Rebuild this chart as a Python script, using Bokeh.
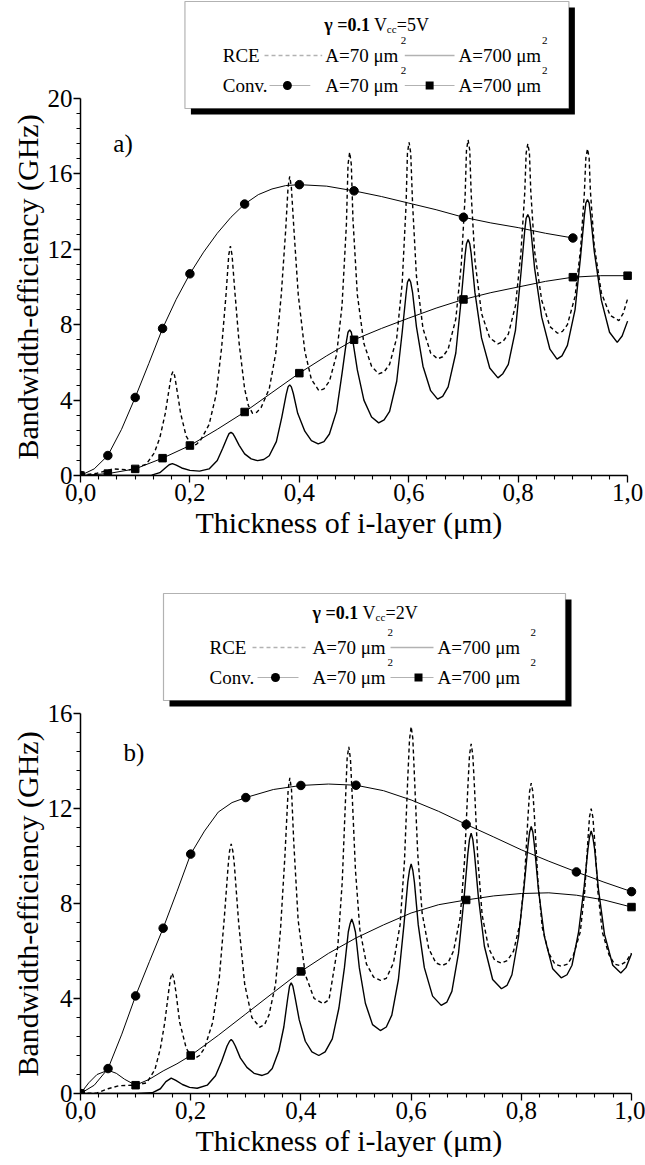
from bokeh.plotting import figure
from bokeh.models import Range1d, FixedTicker, Label, BoxAnnotation, PolyAnnotation, Title
from bokeh.layouts import column
from bokeh.embed import file_html
from bokeh.resources import INLINE

# ---------------- data: panel a (Vcc = 5 V) ----------------
a_conv70_x = [0, 0.05, 0.1, 0.15, 0.2, 0.3, 0.4, 0.5, 0.7, 0.9]
a_conv70_y = [0, 1.06, 4.14, 7.8, 10.7, 14.4, 15.43, 15.1, 13.7, 12.6]
a_conv70_cx = [0, 0.025, 0.05, 0.075, 0.1, 0.125, 0.15, 0.175, 0.2, 0.225, 0.25, 0.275, 0.3,
               0.325, 0.35, 0.375, 0.4, 0.45, 0.5, 0.55, 0.6, 0.65, 0.7, 0.75, 0.8, 0.85, 0.9]
a_conv70_cy = [0, 0.35, 1.06, 2.45, 4.14, 5.95, 7.8, 9.35, 10.7, 11.85, 12.85, 13.7, 14.4,
               14.9, 15.2, 15.38, 15.43, 15.35, 15.1, 14.8, 14.45, 14.1, 13.7, 13.4, 13.15, 12.85, 12.6]

a_conv700_x = [0, 0.05, 0.1, 0.15, 0.2, 0.3, 0.4, 0.5, 0.7, 0.9, 1.0]
a_conv700_y = [0, 0.1, 0.35, 0.92, 1.59, 3.37, 5.43, 7.2, 9.34, 10.52, 10.6]
a_conv700_cx = [0, 0.05, 0.1, 0.15, 0.2, 0.25, 0.3, 0.35, 0.4, 0.45, 0.5, 0.55, 0.6, 0.65, 0.7,
                0.75, 0.8, 0.85, 0.9, 0.95, 1.0]
a_conv700_cy = [0, 0.1, 0.35, 0.92, 1.59, 2.45, 3.37, 4.4, 5.43, 6.35, 7.2, 7.8, 8.35, 8.88, 9.34,
                9.7, 10.0, 10.3, 10.52, 10.6, 10.6]

a_rce70_x = [0, 0.03, 0.06, 0.09, 0.12, 0.135, 0.145, 0.155, 0.162, 0.166, 0.169, 0.172, 0.176, 0.183,
             0.193, 0.2, 0.2055, 0.212,
             0.22, 0.235, 0.248, 0.258, 0.266, 0.271, 0.274, 0.277, 0.282, 0.29, 0.3, 0.307, 0.3145, 0.322,
             0.33, 0.345, 0.357, 0.367, 0.375, 0.3794, 0.3824, 0.3854, 0.39, 0.398, 0.41, 0.422, 0.4358, 0.445,
             0.455, 0.468, 0.478, 0.486, 0.489, 0.492, 0.495, 0.498, 0.506, 0.518, 0.532, 0.545, 0.555,
             0.565, 0.578, 0.588, 0.595, 0.5976, 0.6006, 0.6036, 0.607, 0.614, 0.626, 0.64, 0.6527, 0.662,
             0.672, 0.686, 0.696, 0.703, 0.7055, 0.7085, 0.7115, 0.714, 0.721, 0.733, 0.748, 0.763, 0.772,
             0.782, 0.795, 0.805, 0.812, 0.8146, 0.8176, 0.8206, 0.823, 0.830, 0.843, 0.858, 0.872, 0.881,
             0.89, 0.904, 0.914, 0.921, 0.9237, 0.9267, 0.9297, 0.932, 0.939, 0.952, 0.968, 0.984, 0.992, 1.0]
a_rce70_y = [0, 0.12, 0.35, 0.3, 0.6, 1.2, 2.0, 3.3, 4.6, 5.3, 5.52, 5.3, 4.6, 3.3,
             2.1, 1.75, 1.6, 1.65,
             1.9, 2.7, 4.3, 6.8, 9.6, 11.7, 12.17, 11.7, 9.8, 7.0, 4.6, 3.7, 3.3, 3.35,
             3.6, 4.6, 6.5, 9.6, 13.0, 15.3, 15.87, 15.3, 13.1, 9.6, 6.6, 5.1, 4.5, 4.6,
             5.0, 6.4, 9.0, 13.3, 16.5, 17.15, 16.5, 13.6, 9.6, 7.0, 5.8, 5.39, 5.5,
             5.9, 7.3, 10.2, 14.3, 17.1, 17.68, 17.1, 14.4, 10.6, 7.8, 6.5, 6.19, 6.3,
             6.7, 8.3, 11.2, 14.8, 17.25, 17.81, 17.25, 15.0, 11.4, 8.6, 7.3, 6.98, 7.1,
             7.5, 9.0, 11.8, 15.0, 17.1, 17.6, 17.1, 15.1, 11.9, 9.3, 7.9, 7.55, 7.65,
             8.0, 9.5, 12.0, 15.0, 16.85, 17.33, 16.85, 15.1, 12.2, 9.7, 8.5, 8.22, 8.6, 9.37]

a_rce700_x = [0, 0.1, 0.13, 0.145, 0.155, 0.162, 0.168, 0.175, 0.185, 0.2, 0.2176,
              0.235, 0.25, 0.26, 0.268, 0.2715, 0.275, 0.2785, 0.282, 0.29, 0.3, 0.312, 0.3236, 0.335,
              0.345, 0.358, 0.368, 0.376, 0.3794, 0.3824, 0.3854, 0.389, 0.397, 0.41, 0.422, 0.4345, 0.445,
              0.455, 0.468, 0.478, 0.486, 0.489, 0.492, 0.495, 0.498, 0.506, 0.518, 0.532, 0.545, 0.555,
              0.565, 0.578, 0.588, 0.595, 0.5976, 0.6006, 0.6036, 0.607, 0.614, 0.626, 0.64, 0.6527, 0.662,
              0.672, 0.686, 0.696, 0.703, 0.7055, 0.7085, 0.7115, 0.714, 0.721, 0.733, 0.748, 0.763, 0.772,
              0.782, 0.795, 0.805, 0.812, 0.8146, 0.8176, 0.8206, 0.823, 0.830, 0.843, 0.858, 0.871, 0.88,
              0.89, 0.904, 0.914, 0.921, 0.9237, 0.9267, 0.9297, 0.932, 0.939, 0.952, 0.967, 0.981, 0.99, 1.0]
a_rce700_y = [0, 0, 0.02, 0.15, 0.4, 0.57, 0.63, 0.55, 0.4, 0.27, 0.23,
              0.35, 0.8, 1.45, 2.0, 2.22, 2.29, 2.22, 2.05, 1.6, 1.15, 0.88, 0.79, 0.85,
              1.05, 1.8, 3.1, 4.3, 4.7, 4.81, 4.7, 4.35, 3.3, 2.35, 1.85, 1.68, 1.8,
              2.2, 3.4, 5.4, 7.1, 7.6, 7.73, 7.6, 7.1, 5.6, 4.0, 3.1, 2.79, 2.95,
              3.4, 5.0, 7.6, 9.6, 10.25, 10.43, 10.25, 9.7, 7.9, 5.8, 4.5, 4.05, 4.2,
              4.7, 6.5, 9.4, 11.7, 12.3, 12.52, 12.3, 11.8, 9.7, 7.3, 5.7, 5.18, 5.4,
              5.9, 7.7, 10.7, 13.0, 13.65, 13.85, 13.65, 13.1, 11.0, 8.4, 6.7, 6.17, 6.35,
              6.9, 8.8, 11.6, 13.8, 14.45, 14.64, 14.45, 13.9, 11.9, 9.3, 7.6, 7.06, 7.4, 8.19]

# ---------------- data: panel b (Vcc = 2 V) ----------------
b_conv70_x = [0, 0.05, 0.1, 0.15, 0.2, 0.3, 0.4, 0.5, 0.7, 0.9, 1.0]
b_conv70_y = [0, 1.05, 4.11, 6.96, 10.08, 12.46, 12.97, 12.98, 11.33, 9.33, 8.5]
b_conv70_cx = [0, 0.025, 0.05, 0.075, 0.1, 0.125, 0.15, 0.175, 0.2, 0.225, 0.25, 0.275, 0.3,
               0.35, 0.4, 0.45, 0.5, 0.55, 0.6, 0.65, 0.7, 0.75, 0.8, 0.85, 0.9, 0.95, 1.0]
b_conv70_cy = [0, 0.35, 1.05, 2.5, 4.11, 5.55, 6.96, 8.5, 10.08, 11.05, 11.85, 12.25, 12.46,
               12.8, 12.97, 13.03, 12.98, 12.75, 12.36, 11.88, 11.33, 10.8, 10.26, 9.78, 9.33, 8.9, 8.5]

b_conv700_x = [0, 0.1, 0.2, 0.4, 0.7, 1.0]
b_conv700_y = [0, 0.35, 1.6, 5.14, 8.15, 7.85]
b_conv700_cx = [0, 0.015, 0.03, 0.05, 0.065, 0.08, 0.1, 0.125, 0.15, 0.175, 0.2, 0.25, 0.3, 0.35,
                0.4, 0.45, 0.5, 0.55, 0.6, 0.65, 0.7, 0.75, 0.8, 0.85, 0.9, 0.95, 1.0]
b_conv700_cy = [0, 0.45, 0.8, 0.98, 0.85, 0.6, 0.35, 0.6, 0.95, 1.25, 1.6, 2.45, 3.35, 4.25,
                5.14, 5.9, 6.55, 7.1, 7.6, 7.95, 8.15, 8.32, 8.42, 8.45, 8.35, 8.15, 7.85]

b_rce70_x = [0, 0.03, 0.05, 0.07, 0.1, 0.12, 0.135, 0.145, 0.153, 0.16, 0.1634, 0.1664, 0.1694, 0.173, 0.18,
             0.192, 0.2, 0.2087, 0.216,
             0.225, 0.24, 0.252, 0.261, 0.268, 0.2705, 0.2735, 0.2765, 0.279, 0.287, 0.298, 0.311, 0.3254, 0.334,
             0.342, 0.354, 0.363, 0.371, 0.3769, 0.3799, 0.3829, 0.387, 0.395, 0.408, 0.424, 0.4405, 0.451,
             0.455, 0.467, 0.475, 0.481, 0.4839, 0.4869, 0.4899, 0.493, 0.499, 0.507, 0.519, 0.532, 0.5445, 0.555,
             0.568, 0.58, 0.588, 0.594, 0.5971, 0.6001, 0.6031, 0.606, 0.612, 0.62, 0.632, 0.645, 0.6564, 0.667,
             0.677, 0.689, 0.697, 0.703, 0.706, 0.709, 0.712, 0.715, 0.721, 0.729, 0.741, 0.752, 0.764, 0.775,
             0.786, 0.798, 0.806, 0.812, 0.815, 0.818, 0.821, 0.824, 0.830, 0.838, 0.85, 0.861, 0.8724, 0.884,
             0.895, 0.907, 0.915, 0.921, 0.9238, 0.9268, 0.9298, 0.933, 0.939, 0.947, 0.959, 0.969, 0.9788, 0.99,
             1.0]
b_rce70_y = [0, 0.02, 0.2, 0.33, 0.35, 0.45, 1.0, 1.9, 3.0, 4.3, 4.85, 5.07, 4.85, 4.3, 3.0,
             1.9, 1.6, 1.5, 1.6,
             1.9, 3.0, 4.9, 7.4, 9.6, 10.2, 10.51, 10.2, 9.7, 7.2, 4.6, 3.2, 2.79, 2.9,
             3.3, 4.6, 6.9, 10.0, 12.8, 13.29, 12.8, 10.6, 7.3, 5.0, 4.0, 3.78, 3.95,
             4.5, 6.2, 8.9, 12.4, 14.1, 14.6, 14.1, 12.6, 9.4, 6.9, 5.45, 4.9, 4.76, 4.85,
             5.5, 7.1, 9.8, 13.3, 14.9, 15.45, 14.95, 13.4, 10.1, 7.6, 6.1, 5.5, 5.39, 5.5,
             6.0, 7.4, 9.8, 12.9, 14.25, 14.72, 14.25, 12.9, 9.9, 7.5, 6.1, 5.6, 5.49, 5.6,
             6.0, 7.2, 9.1, 11.6, 12.7, 13.07, 12.7, 11.6, 9.0, 7.0, 5.9, 5.45, 5.36, 5.45,
             5.85, 6.8, 8.5, 10.7, 11.65, 11.99, 11.65, 10.7, 8.5, 6.8, 5.85, 5.45, 5.39, 5.55,
             5.91]

b_rce700_x = [0, 0.1, 0.13, 0.145, 0.155, 0.1646, 0.173, 0.185, 0.198, 0.2118,
              0.23, 0.245, 0.256, 0.266, 0.2705, 0.2735, 0.2765, 0.281, 0.29, 0.302, 0.315, 0.3297, 0.34,
              0.348, 0.36, 0.369, 0.376, 0.3794, 0.3824, 0.3854, 0.389, 0.397, 0.408, 0.42, 0.4325, 0.444,
              0.457, 0.469, 0.479, 0.486, 0.4893, 0.4923, 0.4953, 0.499, 0.506, 0.517, 0.53, 0.5442, 0.555,
              0.565, 0.577, 0.587, 0.594, 0.5971, 0.6001, 0.6031, 0.606, 0.613, 0.624, 0.639, 0.6546, 0.665,
              0.674, 0.686, 0.696, 0.703, 0.706, 0.709, 0.712, 0.715, 0.722, 0.733, 0.748, 0.764, 0.774,
              0.783, 0.795, 0.805, 0.812, 0.815, 0.818, 0.821, 0.824, 0.831, 0.842, 0.857, 0.8724, 0.883,
              0.892, 0.904, 0.914, 0.921, 0.9238, 0.9268, 0.9298, 0.933, 0.94, 0.951, 0.966, 0.9806, 0.99, 1.0]
b_rce700_y = [0, 0, 0.03, 0.2, 0.5, 0.65, 0.55, 0.38, 0.26, 0.22,
              0.35, 0.75, 1.35, 2.0, 2.2, 2.27, 2.2, 2.0, 1.5, 1.1, 0.85, 0.76, 0.85,
              1.05, 1.8, 2.8, 4.0, 4.52, 4.66, 4.52, 4.1, 3.1, 2.2, 1.75, 1.6, 1.75,
              2.3, 3.6, 5.3, 6.8, 7.15, 7.35, 7.15, 6.8, 5.3, 3.8, 2.9, 2.65, 2.8,
              3.3, 4.8, 7.1, 8.9, 9.4, 9.67, 9.4, 8.9, 7.1, 5.3, 4.1, 3.71, 3.85,
              4.3, 5.9, 8.2, 10.1, 10.7, 10.96, 10.7, 10.1, 8.3, 6.2, 4.8, 4.41, 4.55,
              5.0, 6.6, 8.7, 10.4, 11.0, 11.24, 11.0, 10.4, 8.6, 6.6, 5.25, 4.87, 5.0,
              5.4, 6.8, 8.7, 10.3, 10.8, 11.05, 10.8, 10.3, 8.6, 6.7, 5.4, 5.07, 5.3, 5.88]

x_ticks = [0, 0.2, 0.4, 0.6, 0.8, 1.0]
x_tick_labels = ["0,0", "0,2", "0,4", "0,6", "0,8", "1,0"]
a_y_ticks = [0, 4, 8, 12, 16, 20]
b_y_ticks = [0, 4, 8, 12, 16]
x_title = "Thickness of i-layer (\u03bcm)"
y_title = "Bandwidth-efficiency (GHz)"

FONT = "Liberation Serif"


def make_fig(height, frame_left, frame_right, frame_top, frame_bottom, bottom_border, ymax, yticks,
             x_off, y_off):
    W = 645
    fw = W - frame_left
    x_end = fw / (frame_right - frame_left)
    fh = height - bottom_border
    y_end = ymax * fh / (frame_bottom - frame_top)
    p = figure(width=W, height=height, output_backend="svg", toolbar_location=None,
               x_range=Range1d(0, x_end), y_range=Range1d(0, y_end),
               min_border_left=frame_left, min_border_right=0, min_border_top=0,
               min_border_bottom=bottom_border)
    p.outline_line_color = None
    p.grid.visible = False
    p.background_fill_color = "white"
    p.border_fill_color = "white"
    minor_x = [i / 30 for i in range(31) if i % 6 != 0]
    p.xaxis.ticker = FixedTicker(ticks=x_ticks, minor_ticks=minor_x)
    p.xaxis.major_label_overrides = {t: l for t, l in zip(x_ticks, x_tick_labels)}
    minor_y = [i * 0.8 for i in range(int(ymax / 0.8) + 1) if i % 5 != 0]
    p.yaxis.ticker = FixedTicker(ticks=yticks, minor_ticks=minor_y)
    p.xaxis.bounds = (0, 1)
    p.yaxis.bounds = (0, ymax)
    for ax in (p.xaxis[0], p.yaxis[0]):
        ax.axis_line_width = 1.5
        ax.axis_line_color = "black"
        ax.major_tick_line_color = "black"
        ax.minor_tick_line_color = "black"
        ax.major_tick_line_width = 1.3
        ax.minor_tick_line_width = 1.1
        ax.major_tick_out = 7
        ax.major_tick_in = 0
        ax.minor_tick_out = 4
        ax.minor_tick_in = 0
        ax.major_label_text_font = FONT
        ax.major_label_text_font_size = "25px"
        ax.major_label_text_color = "black"
        ax.major_label_standoff = 1
    # axis titles as side-panel titles so they can be centred on the axis span
    p.add_layout(Title(text=x_title, align="left", offset=x_off, standoff=0,
                       text_font=FONT, text_font_size="30px", text_font_style="normal",
                       text_color="black"), "below")
    p.add_layout(Title(text=y_title, align="left", offset=y_off, standoff=2,
                       text_font=FONT, text_font_size="30px", text_font_style="normal",
                       text_color="black"), "left")
    fx = lambda px: (px - frame_left) / (frame_right - frame_left)
    fy = lambda py: (frame_bottom - py) / (frame_bottom - frame_top) * ymax
    return p, fx, fy


def draw_curves(p, rce70, rce700, c70, c700):
    p.line(rce70[0], rce70[1], line_color="black", line_width=1.4, line_dash="4 3")
    p.line(rce700[0], rce700[1], line_color="black", line_width=1.4)
    p.line(c70[2], c70[3], line_color="black", line_width=1.0)
    p.line(c700[2], c700[3], line_color="black", line_width=1.0)
    p.scatter(c70[0], c70[1], marker="circle", size=8.5, color="black")
    p.scatter(c700[0], c700[1], marker="square", size=7.5, color="black")


def txt(p, x, y, s, size="19px", style="normal", align="left", angle=0.0):
    p.add_layout(Label(x=x, y=y, text=s, text_font=FONT, text_font_size=size,
                       text_font_style=style, text_baseline="middle", text_align=align,
                       angle=angle, text_color="black", level="overlay"))


def hline(p, fx, fy, x0, x1, y, dash="solid", w=1.2):
    p.add_layout(PolyAnnotation(xs=[fx(x0), fx(x1)], ys=[fy(y), fy(y)], line_color="black",
                                line_width=w, line_dash=dash, fill_alpha=0, level="overlay"))


def add_legend(p, fx, fy, g, vcc):
    L, R, T, B = g["box"]
    p.add_layout(BoxAnnotation(left=fx(L + 6), right=fx(R + 6), top=fy(T + 6), bottom=fy(B + 6),
                               fill_color="black", fill_alpha=1, line_color=None))
    p.add_layout(BoxAnnotation(left=fx(L), right=fx(R), top=fy(T), bottom=fy(B),
                               fill_color="white", fill_alpha=1, line_color="black", line_width=1.2))
    tx, ty = g["title"]
    txt(p, fx(tx), fy(ty), "\u03b3 =0.1", size="18px", style="bold")
    txt(p, fx(tx + 50), fy(ty), "V", size="18px")
    txt(p, fx(tx + 63), fy(ty + 4), "cc", size="11px")
    txt(p, fx(tx + 73), fy(ty), "=" + vcc, size="18px")
    r1, r2 = g["rows"]
    for ry, name in ((r1, "RCE"), (r2, "Conv.")):
        txt(p, fx(g["name_x"]), fy(ry), name)
        txt(p, fx(g["a70_x"]), fy(ry), "A=70 \u03bcm")
        txt(p, fx(g["sup70_x"]), fy(ry - 15), "2", size="11px")
        txt(p, fx(g["a700_x"]), fy(ry), "A=700 \u03bcm")
        txt(p, fx(g["sup700_x"]), fy(ry - 15), "2", size="11px")
    d0, d1 = g["dash"]
    hline(p, fx, fy, d0, d1, r1, dash="4 3", w=1.5)
    s0, s1 = g["solid"]
    hline(p, fx, fy, s0, s1, r1, w=1.5)
    c0, c1, cc = g["circ"]
    hline(p, fx, fy, c0, c1, r2, w=1.2)
    q0, q1, qc = g["sq"]
    hline(p, fx, fy, q0, q1, r2, w=1.2)
    p.add_layout(BoxAnnotation(left=fx(cc - 4.5), right=fx(cc + 4.5), top=fy(r2 - 4.5),
                               bottom=fy(r2 + 4.5), border_radius=5, fill_color="black", fill_alpha=1,
                               line_color=None, level="overlay"))
    p.add_layout(BoxAnnotation(left=fx(qc - 4), right=fx(qc + 4), top=fy(r2 - 4),
                               bottom=fy(r2 + 4), fill_color="black", fill_alpha=1,
                               line_color=None, level="overlay"))


# panel a
pa, fxa, fya = make_fig(583, 77, 627, 98, 475, 108, 20, a_y_ticks, 115, 16)
draw_curves(pa, (a_rce70_x, a_rce70_y), (a_rce700_x, a_rce700_y),
            (a_conv70_x, a_conv70_y, a_conv70_cx, a_conv70_cy),
            (a_conv700_x, a_conv700_y, a_conv700_cx, a_conv700_cy))
leg_a = dict(box=(182, 568, 1, 108), title=(322, 24), rows=(55, 85), name_x=220,
             a70_x=323, sup70_x=399, a700_x=457, sup700_x=541,
             dash=(262, 320), solid=(403, 453), circ=(267, 308, 285), sq=(403, 453, 428))
add_legend(pa, fxa, fya, leg_a, "5V")
txt(pa, fxa(110), fya(143), "a)", size="25px")

# panel b (page y offset 583)
OFF = 583
pb, fxb, fyb0 = make_fig(582, 80, 631, 713 - OFF, 1093 - OFF, 72, 16, b_y_ticks, 115, 17)
fyb = lambda py: fyb0(py - OFF)
draw_curves(pb, (b_rce70_x, b_rce70_y), (b_rce700_x, b_rce700_y),
            (b_conv70_x, b_conv70_y, b_conv70_cx, b_conv70_cy),
            (b_conv700_x, b_conv700_y, b_conv700_cx, b_conv700_cy))
leg_b = dict(box=(163, 565, 593, 700), title=(312, 612), rows=(647, 677), name_x=209,
             a70_x=312, sup70_x=387, a700_x=437, sup700_x=530,
             dash=(252, 307), solid=(390, 433), circ=(257, 298, 275), sq=(390, 433, 418))
add_legend(pb, fxb, fyb, leg_b, "2V")
txt(pb, fxb(123), fyb(752), "b)", size="25px")

layout = column(pa, pb, spacing=0)
open("out.html", "w").write(file_html(layout, INLINE))
